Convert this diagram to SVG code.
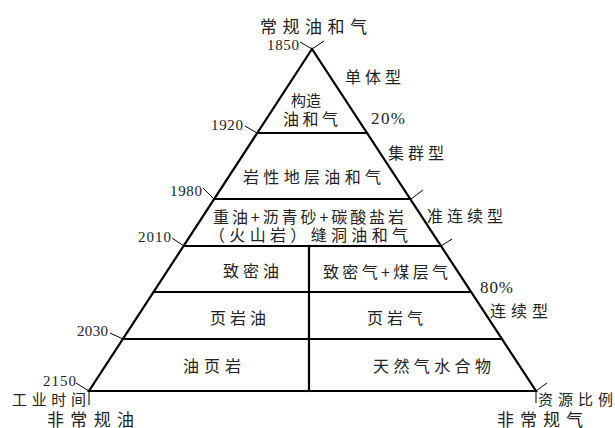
<svg xmlns="http://www.w3.org/2000/svg" width="615" height="428" viewBox="0 0 615 428">
<style>
.main{fill:none;stroke:#000;stroke-width:2.2;stroke-linecap:square}
.tick{fill:none;stroke:#000;stroke-width:1}
text{fill:#222;font-family:"Noto Sans CJK SC","Noto Sans",sans-serif;font-size:16px}
.num{font-family:"Liberation Serif",serif;font-size:15px}
.pct{font-family:"Liberation Serif",serif;font-size:17px}
.title{font-size:17px}
.small{font-size:15px}
</style>
<rect width="615" height="428" fill="#fff"/>
<g id="connectors">
<polygon class="main" points="312,49 89,391 536,391"/>
<line class="main" x1="257" y1="133" x2="367" y2="133"/>
<line class="main" x1="214" y1="199" x2="410" y2="199"/>
<line class="main" x1="184" y1="246" x2="441" y2="246"/>
<line class="main" x1="154" y1="292" x2="471" y2="292"/>
<line class="main" x1="123" y1="339" x2="502" y2="339"/>
<line class="main" x1="309" y1="246" x2="309" y2="391"/>
<path class="tick" d="M300,42 L312,49 L324,41"/>
<path class="tick" d="M245,126 L257,133"/>
<path class="tick" d="M203,188 L214,199"/>
<path class="tick" d="M411,199 L423,190"/>
<path class="tick" d="M172,238 L184,246"/>
<path class="tick" d="M441,246 L452,239"/>
<path class="tick" d="M110,333 L123,339"/>
<path class="tick" d="M76,383 L89,391 L89,405"/>
<path class="tick" d="M536,403 L536,391 L547,383"/>
</g>
<g id="apex">
<text class="title" x="260" y="33" textLength="107" lengthAdjust="spacing">常规油和气</text>
<text class="num" x="267" y="50" textLength="32" lengthAdjust="spacing">1850</text>
</g>
<g id="tier1">
<text x="291" y="106" style="font-size:15px">构造</text>
<text x="283" y="125" textLength="55" lengthAdjust="spacing">油和气</text>
<text class="num" x="211" y="130" textLength="32" lengthAdjust="spacing">1920</text>
<text x="345" y="83" textLength="56" lengthAdjust="spacing">单体型</text>
<text class="pct" x="371" y="124" textLength="34" lengthAdjust="spacing">20%</text>
</g>
<g id="tier2">
<text x="243" y="183" textLength="138" lengthAdjust="spacing">岩性地层油和气</text>
<text x="388" y="159" textLength="56" lengthAdjust="spacing">集群型</text>
<text class="num" x="170" y="196" textLength="32" lengthAdjust="spacing">1980</text>
</g>
<g id="tier3">
<text x="213" y="223" textLength="191" lengthAdjust="spacing">重油+沥青砂+碳酸盐岩</text>
<text x="209" y="241" textLength="199" lengthAdjust="spacing">（火山岩）缝洞油和气</text>
<text x="427" y="222" textLength="76" lengthAdjust="spacing">准连续型</text>
<text class="num" x="138" y="242" textLength="33" lengthAdjust="spacing">2010</text>
</g>
<g id="tier4">
<text x="223" y="277" textLength="56" lengthAdjust="spacing">致密油</text>
<text x="323" y="278" textLength="125" lengthAdjust="spacing">致密气+煤层气</text>
<text class="pct" x="480" y="293" textLength="33" lengthAdjust="spacing">80%</text>
</g>
<g id="tier5">
<text x="210" y="324" textLength="56" lengthAdjust="spacing">页岩油</text>
<text x="367" y="324" textLength="56" lengthAdjust="spacing">页岩气</text>
<text x="490" y="317" textLength="58" lengthAdjust="spacing">连续型</text>
<text class="num" x="77" y="336" textLength="31" lengthAdjust="spacing">2030</text>
</g>
<g id="tier6">
<text x="183" y="372" textLength="58" lengthAdjust="spacing">油页岩</text>
<text x="373" y="372" textLength="118" lengthAdjust="spacing">天然气水合物</text>
<text class="num" x="43" y="386" textLength="33" lengthAdjust="spacing">2150</text>
</g>
<g id="axes">
<text class="small" x="12" y="405" textLength="74" lengthAdjust="spacing">工业时间</text>
<text class="small" x="538" y="405" textLength="75" lengthAdjust="spacing">资源比例</text>
<text class="title" x="47" y="426" textLength="87" lengthAdjust="spacing">非常规油</text>
<text class="title" x="497" y="426" textLength="86" lengthAdjust="spacing">非常规气</text>
</g>
</svg>
